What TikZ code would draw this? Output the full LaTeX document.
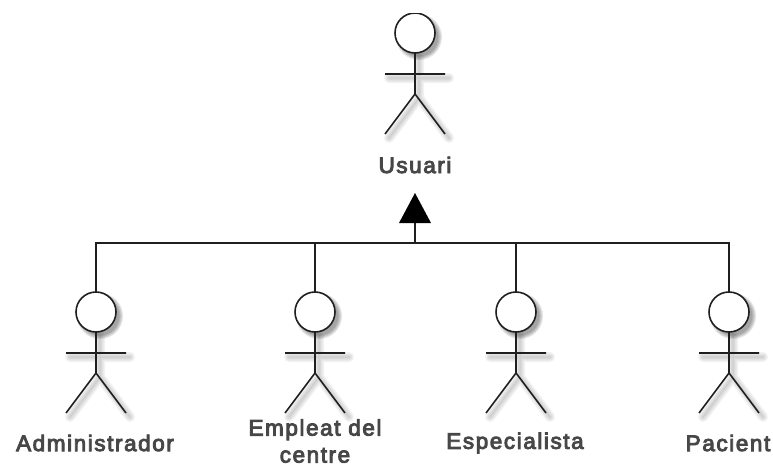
\documentclass[tikz,border=0pt]{standalone}
\usepackage{fontspec}
\setmainfont{Liberation Sans}[FakeBold=4,LetterSpace=7]
\begin{document}
\begin{tikzpicture}[x=1pt,y=-1pt,
  ink/.style={draw=black!88,line width=1.6pt},
  headnode/.style={circle,draw=black!88,line width=1.6pt,fill=white,minimum size=40pt,inner sep=0pt,outer sep=0pt},
  lbl/.style={font=\fontsize{22.5pt}{27pt}\selectfont,text=black!72,align=center,inner sep=0pt},
  halo/.style={black,opacity=.05,line cap=round},
]
\newcommand{\stickman}[3]{%
  \begin{scope}[shift={(#2+4,#3+4)}]
    \foreach \w in {1,4,7,10}{
      \fill[black,opacity=.1] (0,0) circle (19+\w/2.5);
      \draw[halo,line width=\w pt] (0,20) -- (0,61) (-30,41) -- (30,41) (0,61) -- (-30,101) (0,61) -- (30,101);
    }
  \end{scope}
  \node[headnode] (#1) at (#2,#3) {};
  \coordinate (#1neck) at (#2,#3+20);
  \coordinate (#1hip) at (#2,#3+61);
  \coordinate (#1armL) at (#2-30,#3+41);
  \coordinate (#1armR) at (#2+30,#3+41);
  \coordinate (#1legL) at (#2-30,#3+101);
  \coordinate (#1legR) at (#2+30,#3+101);
  \draw[ink] (#1neck) -- (#1hip) (#1armL) -- (#1armR) (#1hip) -- (#1legL) (#1hip) -- (#1legR);
}
\useasboundingbox (0,0) rectangle (773,466);
\fill[white] (0,0) rectangle (773,466);
\stickman{usuari}{415}{33}
\stickman{admin}{96}{312}
\stickman{empleat}{315}{312}
\stickman{espec}{516}{312}
\stickman{pacient}{729}{312}
\fill[white] (380,0) rectangle (450,12.5);
\node[lbl] (tusuari) at (415,165) {Usuari};
\node[lbl] (tadmin) at (95,443) {Administrador};
\node[lbl] (templeat) at (315,441) {Empleat del\\centre};
\node[lbl] (tespec) at (515,443) {Especialista};
\node[lbl] (tpacient) at (728,443) {Pacient};
\coordinate (bar) at (415,243);
\coordinate (tipbase) at (415,223);
\coordinate (tip) at (415,193);
\draw[ink] (admin.north) -- (admin.north |- bar) -- (pacient.north |- bar) -- (pacient.north);
\draw[ink] (empleat.north) -- (empleat.north |- bar);
\draw[ink] (espec.north) -- (espec.north |- bar);
\draw[ink] (bar) -- (tipbase);
\fill[black] (tip) -- (431,223) -- (399,223) -- cycle;
\end{tikzpicture}
\end{document}
